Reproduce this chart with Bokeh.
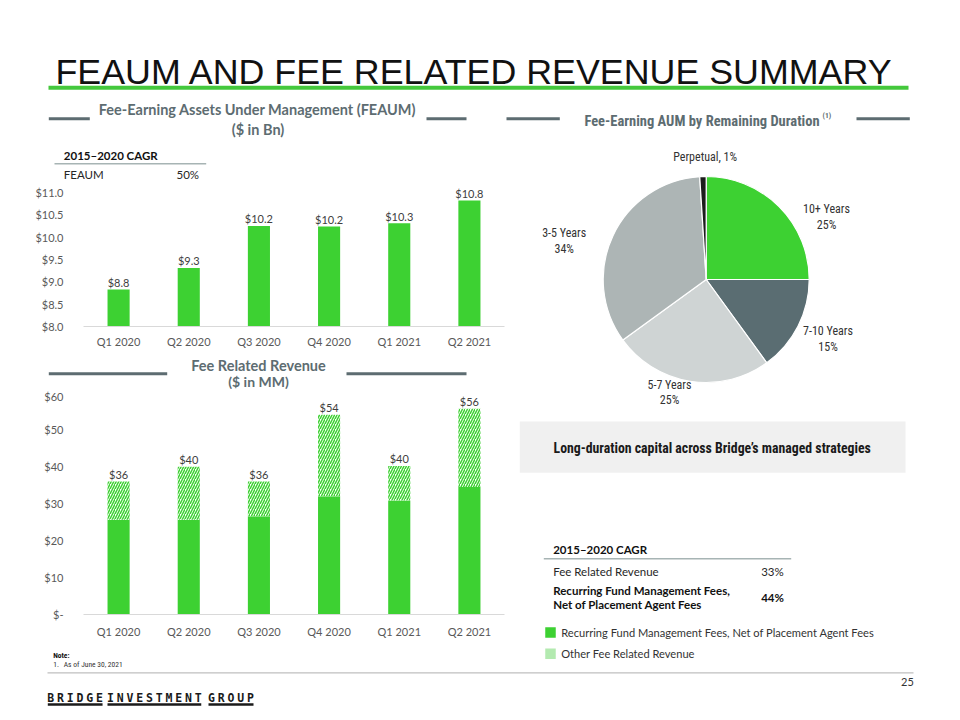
import numpy as np
from bokeh.plotting import figure
from bokeh.models import Range1d, FactorRange, FixedTicker
from bokeh.layouts import column, row
from bokeh.core.properties import value
from bokeh.embed import file_html
from bokeh.resources import INLINE

# ---------------- data ----------------
quarters = ["Q1 2020", "Q2 2020", "Q3 2020", "Q4 2020", "Q1 2021", "Q2 2021"]
feaum = [8.83, 9.31, 10.25, 10.24, 10.31, 10.82]
feaum_labels = ["$8.8", "$9.3", "$10.2", "$10.2", "$10.3", "$10.8"]
feaum_ticks = [8.0, 8.5, 9.0, 9.5, 10.0, 10.5, 11.0]
feaum_tick_labels = ["$8.0", "$8.5", "$9.0", "$9.5", "$10.0", "$10.5", "$11.0"]

recurring = [25.6, 25.6, 26.5, 31.9, 30.8, 34.4]
other = [10.3, 14.3, 9.4, 22.0, 9.3, 21.1]
frr_labels = ["$36", "$40", "$36", "$54", "$40", "$56"]
frr_ticks = [0, 10, 20, 30, 40, 50, 60]
frr_tick_labels = ["$-", "$10", "$20", "$30", "$40", "$50", "$60"]

dur_names = ["10+ Years", "7-10 Years", "5-7 Years", "3-5 Years", "Perpetual"]
dur_pct = [25, 15, 25, 34, 1]

cagr_left = [("FEAUM", "50%")]
cagr_right = [("Fee Related Revenue", "33%")]

# ---------------- style ----------------
GREEN = "#3dd132"
LIGHT_GREEN = "#b3eab0"
SLATE = "#5d6c71"
TICK = "#595959"
PIE_COLORS = ["#3dd132", "#5a6d72", "#cfd4d4", "#adb5b5", "#1c1c1c"]
COND = "Roboto Condensed"
H = 720


def canvas(x0, x1, y0, y1):
    p = figure(width=x1 - x0, height=y1 - y0,
               x_range=Range1d(x0, x1), y_range=Range1d(H - y1, H - y0),
               output_backend="svg", toolbar_location=None, min_border=0,
               x_axis_location=None, y_axis_location=None, title_location=None)
    p.xgrid.visible = False
    p.ygrid.visible = False
    p.outline_line_color = None
    p.background_fill_color = "white"
    p.border_fill_color = "white"
    return p


def T(p, x, y, text, size, color="#262626", font="Lato", style="normal",
      align="left", baseline="middle"):
    p.text(x=[x], y=[H - y], text=[text], text_font=value(font),
           text_font_size=f"{size}px", text_color=color,
           text_font_style=style, text_align=align, text_baseline=baseline)


def L(p, x0, x1, y, color, width):
    p.line(x=[x0, x1], y=[H - y, H - y], line_color=color, line_width=width)


def style_chart(p, xstandoff):
    p.xgrid.visible = False
    p.ygrid.visible = False
    p.outline_line_color = None
    p.background_fill_color = "white"
    p.border_fill_color = "white"
    for ax in (p.xaxis, p.yaxis):
        ax.major_tick_line_color = None
        ax.minor_tick_line_color = None
        ax.major_label_text_font = "Lato"
        ax.major_label_text_font_size = "11px"
        ax.major_label_text_color = TICK
    p.yaxis.axis_line_color = None
    p.yaxis.major_label_standoff = 14
    p.xaxis.axis_line_color = "#d9d9d9"
    p.xaxis.axis_line_width = 1
    p.xaxis.major_label_standoff = xstandoff


# ---------------- top title ----------------
top = canvas(0, 960, 0, 95)
T(top, 55, 71.7, "FEAUM AND FEE RELATED REVENUE SUMMARY", 35.8, "#111111",
  "Liberation Sans", baseline="alphabetic")
L(top, 48, 908, 87.3, "#44c83c", 4)

# ---------------- left header (FEAUM) ----------------
l1 = canvas(0, 505, 95, 181)
T(l1, 257, 109, "Fee-Earning Assets Under Management (FEAUM)", 14.5, SLATE,
  style="bold", align="center")
T(l1, 257.5, 128.5, "($ in Bn)", 14.5, SLATE, style="bold", align="center")
L(l1, 48.3, 89.3, 118.3, SLATE, 3)
L(l1, 426, 466, 118.3, SLATE, 3)
T(l1, 63.3, 155, "2015\u20132020 CAGR", 11.5, "#111111", style="bold")
L(l1, 54, 205.7, 163.3, "#a7b4b4", 1.5)
for name, pct in cagr_left:
    T(l1, 63.3, 174, name, 11.5)
    T(l1, 176, 174, pct, 11.5)

# ---------------- FEAUM chart ----------------
fe = figure(width=505, height=174, x_range=FactorRange(*quarters),
            y_range=Range1d(8.0, 8.0 + 145 / 44.67),
            output_backend="svg", toolbar_location=None, title_location=None,
            min_border_left=83, min_border_right=1, min_border_top=0,
            min_border_bottom=29)
fe.vbar(x=quarters, top=feaum, bottom=8.0, width=0.315, fill_color=GREEN,
        line_color=None)
fe.text(x=quarters, y=feaum, text=feaum_labels, y_offset=-7,
        text_align="center", text_baseline="alphabetic",
        text_font=value("Lato"), text_font_size="11px", text_color="#404040")
fe.yaxis.ticker = FixedTicker(ticks=feaum_ticks)
fe.yaxis.major_label_overrides = dict(zip(feaum_ticks, feaum_tick_labels))
style_chart(fe, 2)

# ---------------- left header (FRR) ----------------
l2 = canvas(0, 505, 355, 389)
T(l2, 258, 364.5, "Fee Related Revenue", 14.5, SLATE, style="bold",
  align="center")
T(l2, 258, 380.6, "($ in MM)", 14, SLATE, style="bold", align="center")
L(l2, 48.3, 166.7, 373.3, SLATE, 3)
L(l2, 346, 466, 373.3, SLATE, 3)

# ---------------- FRR chart ----------------
total = list(np.add(recurring, other))
fr = figure(width=505, height=254, x_range=FactorRange(*quarters),
            y_range=Range1d(0, 225 / 3.705),
            output_backend="svg", toolbar_location=None, title_location=None,
            min_border_left=83, min_border_right=1, min_border_top=0,
            min_border_bottom=29)
fr.vbar(x=quarters, top=recurring, bottom=0, width=0.315, fill_color=GREEN,
        line_color=None)
fr.vbar(x=quarters, top=total, bottom=recurring, width=0.315,
        fill_color="white", hatch_pattern="/", hatch_color=GREEN,
        hatch_scale=5, hatch_weight=1.5, line_color=None)
fr.text(x=quarters, y=total, text=frr_labels, y_offset=-7,
        text_align="center", text_baseline="alphabetic",
        text_font=value("Lato"), text_font_size="11px", text_color="#404040")
fr.yaxis.ticker = FixedTicker(ticks=frr_ticks)
fr.yaxis.major_label_overrides = dict(zip(frr_ticks, frr_tick_labels))
style_chart(fr, 4)

# ---------------- right column ----------------
rt = canvas(505, 960, 95, 643)
T(rt, 701.5, 120.5, "Fee-Earning AUM by Remaining Duration", 14.5, SLATE,
  COND, "bold", "center")
T(rt, 822, 115, "(1)", 7.5, SLATE, COND, "bold")
L(rt, 506, 559.3, 118.3, SLATE, 3)
L(rt, 856, 909.3, 118.3, SLATE, 3)

cx, cy, rad = 705.7, 279, 103
frac = np.array(dur_pct, dtype=float) / np.sum(dur_pct)
cum = np.concatenate([[0], np.cumsum(frac)])
starts = np.pi / 2 - 2 * np.pi * cum[1:]
ends = np.pi / 2 - 2 * np.pi * cum[:-1]
rt.wedge(x=cx, y=H - cy, radius=rad, start_angle=starts, end_angle=ends,
         fill_color=PIE_COLORS, line_color="white", line_width=1.2)

label_pos = [(826, 208.3, 224), (827.5, 330.7, 346), (669, 384, 399.5),
             (563.7, 232.7, 248.3)]
for (lx, ly1, ly2), nm, pc in zip(label_pos, dur_names[:4], dur_pct[:4]):
    T(rt, lx, ly1, nm, 12, "#333333", COND, align="center")
    T(rt, lx, ly2, f"{pc}%", 12, "#333333", COND, align="center")
T(rt, 704.7, 156.5, f"{dur_names[4]}, {dur_pct[4]}%", 12, "#333333", COND,
  align="center")

# callout box
rt.quad(left=519.3, right=905, bottom=H - 472.3, top=H - 421,
        fill_color="#f0f0f0", line_color=None)
T(rt, 711.7, 447.5, "Long-duration capital across Bridge\u2019s managed strategies",
  13.8, "#1a1a1a", COND, "bold", "center")

# CAGR table
T(rt, 552.7, 548.5, "2015\u20132020 CAGR", 11.5, "#111111", style="bold")
L(rt, 543.3, 790.7, 558.3, "#a7b4b4", 1.5)
for name, pct in cagr_right:
    T(rt, 552.7, 570.7, name, 11.5)
    T(rt, 760.7, 570.7, pct, 11.5)
T(rt, 552.7, 590, "Recurring Fund Management Fees,", 11.5, "#111111",
  style="bold")
T(rt, 552.7, 603.5, "Net of Placement Agent Fees", 11.5, "#111111",
  style="bold")
T(rt, 760.7, 596.7, "44%", 11.5, "#111111", style="bold")

# legend row 1
rt.rect(x=[550], y=[H - 632], width=10.5, height=10.5, fill_color=GREEN,
        line_color=None)
T(rt, 560.7, 632, "Recurring Fund Management Fees, Net of Placement Agent Fees",
  11.1, "#333333")

# ---------------- bottom ----------------
bt = canvas(0, 960, 643, 720)
bt.rect(x=[550], y=[H - 653.3], width=10.5, height=10.5, fill_color=LIGHT_GREEN,
        line_color=None)
T(bt, 560.7, 653, "Other Fee Related Revenue", 11.1, "#333333")
T(bt, 52.7, 654.5, "Note:", 7.5, "#111111", COND, "bold")
T(bt, 52.7, 664.3, "1.", 7.5, "#333333", COND)
T(bt, 63.3, 664.3, "As of June 30, 2021", 7.5, "#333333", COND)
L(bt, 47, 913, 672.3, "#bfbfbf", 1.2)
T(bt, 913.3, 681.5, "25", 11, "#333333", align="right")

words = [("BRIDGE", 50.3), ("INVESTMENT", 110), ("GROUP", 211)]
pitch = 9.75
for w, x0 in words:
    xs = [x0 + i * pitch for i in range(len(w))]
    bt.text(x=xs, y=[H - 697] * len(w), text=list(w),
            text_font=value("DejaVu Sans Mono"), text_font_style="bold",
            text_font_size="11.5px", text_color="#1a1a1a", text_align="center",
            text_baseline="middle")
    L(bt, xs[0] - 3, xs[-1] + 3, 704, "#1a1a1a", 2.5)

layout = column(top,
                row(column(row(l1), fe, row(l2), fr), rt),
                bt)
open("out.html", "w", encoding="utf-8").write(file_html(layout, INLINE))
